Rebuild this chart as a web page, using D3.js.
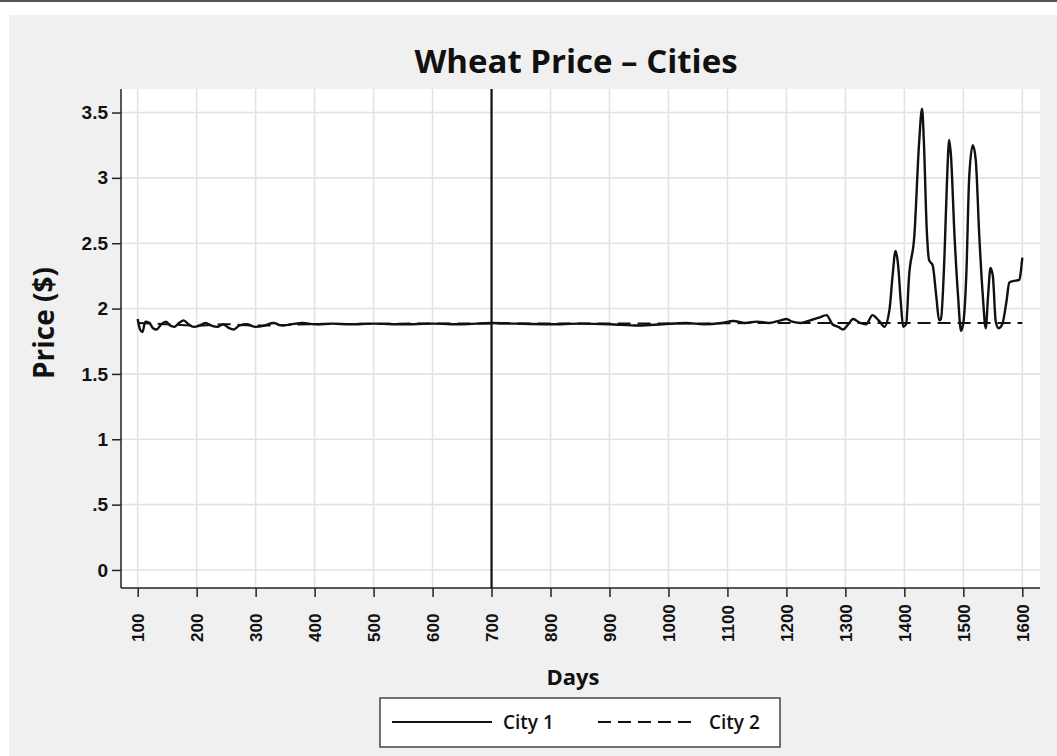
<!DOCTYPE html>
<html>
<head>
<meta charset="utf-8">
<script src="https://cdn.jsdelivr.net/npm/d3@7"></script>
<style>
  body { margin: 0; background: #fff; }
  svg { display: block; font-family: "Open Sans", sans-serif; }
  .tick text { fill: #111; }
</style>
</head>
<body>
<svg id="chart" width="1057" height="756"></svg>
<script>
// ---- data ----
var xTicks = [100, 200, 300, 400, 500, 600, 700, 800, 900, 1000, 1100, 1200, 1300, 1400, 1500, 1600];
var yTicks = [0, 0.5, 1, 1.5, 2, 2.5, 3, 3.5];
var yTickLabels = ['0', '.5', '1', '1.5', '2', '2.5', '3', '3.5'];
var markerDay = 700;

var city1Days = [100, 104, 108, 113, 120, 126, 132, 140, 148, 155, 162, 170, 178, 186, 195,
  205, 215, 225, 235, 245, 255, 263, 272, 285, 300, 315, 330, 345, 360, 380, 400, 430, 460,
  500, 550, 600, 650, 700, 740, 800, 850, 900, 950, 990, 1030, 1060, 1090, 1110, 1130, 1150,
  1170, 1190, 1200, 1210, 1225, 1240, 1255, 1268, 1278, 1288, 1296, 1305, 1313, 1325, 1335,
  1346, 1352, 1360, 1366, 1375, 1380, 1385, 1389, 1394, 1398, 1403, 1408, 1417, 1425, 1430,
  1433, 1438, 1442, 1448, 1454, 1459, 1462, 1468, 1472, 1476, 1479, 1485, 1491, 1496, 1500,
  1505, 1510, 1516, 1521, 1527, 1533, 1538, 1542, 1546, 1550, 1555, 1560, 1566, 1573, 1578,
  1584, 1595, 1598, 1600];
var city1Price = [1.92, 1.84, 1.82, 1.90, 1.89, 1.85, 1.84, 1.88, 1.90, 1.87, 1.86, 1.89, 1.91, 1.88, 1.86,
  1.87, 1.89, 1.87, 1.86, 1.88, 1.85, 1.84, 1.87, 1.88, 1.86, 1.87, 1.89, 1.87, 1.88, 1.89, 1.88, 1.885, 1.88,
  1.885, 1.88, 1.885, 1.88, 1.89, 1.885, 1.88, 1.885, 1.88, 1.87, 1.88, 1.89, 1.88, 1.89, 1.905, 1.89, 1.90,
  1.89, 1.91, 1.92, 1.90, 1.89, 1.91, 1.93, 1.95, 1.88, 1.86, 1.84, 1.88, 1.92, 1.89, 1.88,
  1.95, 1.93, 1.89, 1.86, 2.0, 2.25, 2.44, 2.35, 2.05, 1.86, 1.88, 2.25, 2.56, 3.27, 3.53,
  3.29, 2.6, 2.37, 2.33, 2.1, 1.91, 1.92, 2.4, 2.94, 3.29, 3.17, 2.56, 2.1, 1.83, 1.89,
  2.25, 3.01, 3.25, 3.14, 2.56, 2.1, 1.85, 2.1, 2.31, 2.25, 1.9, 1.85, 1.88, 2.05, 2.2,
  2.21, 2.22, 2.3, 2.39];

var city2Days = [100, 150, 200, 250, 300, 400, 600, 800, 1000, 1200, 1400, 1600];
var city2Price = [1.89, 1.88, 1.87, 1.88, 1.87, 1.88, 1.885, 1.885, 1.885, 1.89, 1.89, 1.89];

var legendLabels = ['City 1', 'City 2'];

// ---- layout ----
var svg = d3.select('#chart');
var plotL = 121, plotR = 1040, plotT = 89, plotB = 588;

var x = d3.scaleLinear().domain([71.7, 1630]).range([plotL, plotR]);
var y = d3.scaleLinear().domain([-0.138, 3.68]).range([plotB, plotT]);

// frame
svg.append('line')
    .attr('x1', 0).attr('x2', 1057).attr('y1', 1).attr('y2', 1)
    .style('stroke', '#555').style('stroke-width', 2);
svg.append('rect')
    .attr('x', 9).attr('y', 15).attr('width', 1048).attr('height', 741)
    .style('fill', '#f0f0f0');
svg.append('rect')
    .attr('x', plotL).attr('y', plotT).attr('width', plotR - plotL).attr('height', plotB - plotT)
    .style('fill', '#fff');

// grid
svg.append('g').selectAll('line').data(xTicks).enter().append('line')
    .attr('x1', function(d) { return x(d); }).attr('x2', function(d) { return x(d); })
    .attr('y1', plotT).attr('y2', plotB)
    .style('stroke', '#e3e3e3').style('stroke-width', 1.6);
svg.append('g').selectAll('line').data(yTicks).enter().append('line')
    .attr('y1', function(d) { return y(d); }).attr('y2', function(d) { return y(d); })
    .attr('x1', plotL).attr('x2', plotR)
    .style('stroke', '#e3e3e3').style('stroke-width', 1.6);

// axes
var yAxis = svg.append('g')
    .attr('transform', 'translate(' + plotL + ',0)')
    .call(d3.axisLeft(y).tickValues(yTicks).tickSize(9).tickPadding(4)
        .tickFormat(function(d, i) { return yTickLabels[i]; }));
yAxis.select('.domain').attr('d', 'M0,' + plotT + 'V' + plotB);
yAxis.selectAll('text').style('font-size', '19px').style('font-weight', 600);

var xAxis = svg.append('g')
    .attr('transform', 'translate(0,' + plotB + ')')
    .call(d3.axisBottom(x).tickValues(xTicks).tickSize(9).tickFormat(d3.format('d')));
xAxis.select('.domain').attr('d', 'M' + plotL + ',0H' + plotR);
xAxis.selectAll('text')
    .attr('transform', 'rotate(-90)')
    .attr('x', -54).attr('y', 0).attr('dy', '0.36em')
    .style('text-anchor', 'start')
    .style('font-size', '17px').style('font-weight', 600);
svg.selectAll('.domain, .tick line').style('stroke', '#222').style('stroke-width', 1.5);

// marker at day 700
svg.append('line')
    .attr('x1', x(markerDay)).attr('x2', x(markerDay))
    .attr('y1', plotT).attr('y2', plotB)
    .style('stroke', '#111').style('stroke-width', 2.2);

// series
var line = d3.line()
    .x(function(d) { return x(d[0]); })
    .y(function(d) { return y(d[1]); })
    .curve(d3.curveMonotoneX);

svg.append('path')
    .datum(d3.zip(city2Days, city2Price))
    .attr('d', line)
    .style('fill', 'none').style('stroke', '#111').style('stroke-width', 2)
    .style('stroke-dasharray', '13,7');
svg.append('path')
    .datum(d3.zip(city1Days, city1Price))
    .attr('d', line)
    .style('fill', 'none').style('stroke', '#111').style('stroke-width', 2.4);

// titles
svg.append('text')
    .attr('x', 576).attr('y', 73)
    .style('text-anchor', 'middle').style('font-size', '33px').style('font-weight', 700)
    .style('fill', '#111')
    .text('Wheat Price \u2013 Cities');
svg.append('text')
    .attr('x', 573).attr('y', 685)
    .style('text-anchor', 'middle').style('font-size', '22px').style('font-weight', 700)
    .style('fill', '#111')
    .text('Days');
svg.append('text')
    .attr('transform', 'translate(54,' + 323 + ') rotate(-90)')
    .style('text-anchor', 'middle').style('font-size', '28px').style('font-weight', 700)
    .style('fill', '#111')
    .text('Price ($)');

// legend
var legend = svg.append('g');
legend.append('rect')
    .attr('x', 380).attr('y', 698).attr('width', 400).attr('height', 49)
    .style('fill', '#fff').style('stroke', '#444').style('stroke-width', 1.5);
var dashes = ['none', '13,7'];
var legX = [392, 598];
legendLabels.forEach(function(lbl, i) {
    legend.append('line')
        .attr('x1', legX[i]).attr('x2', legX[i] + 100)
        .attr('y1', 722).attr('y2', 722)
        .style('stroke', '#111').style('stroke-width', 2.2)
        .style('stroke-dasharray', dashes[i]);
    legend.append('text')
        .attr('x', legX[i] + 111).attr('y', 729)
        .style('font-size', '19px').style('font-weight', 600).style('fill', '#111')
        .text(lbl);
});
</script>
</body>
</html>
